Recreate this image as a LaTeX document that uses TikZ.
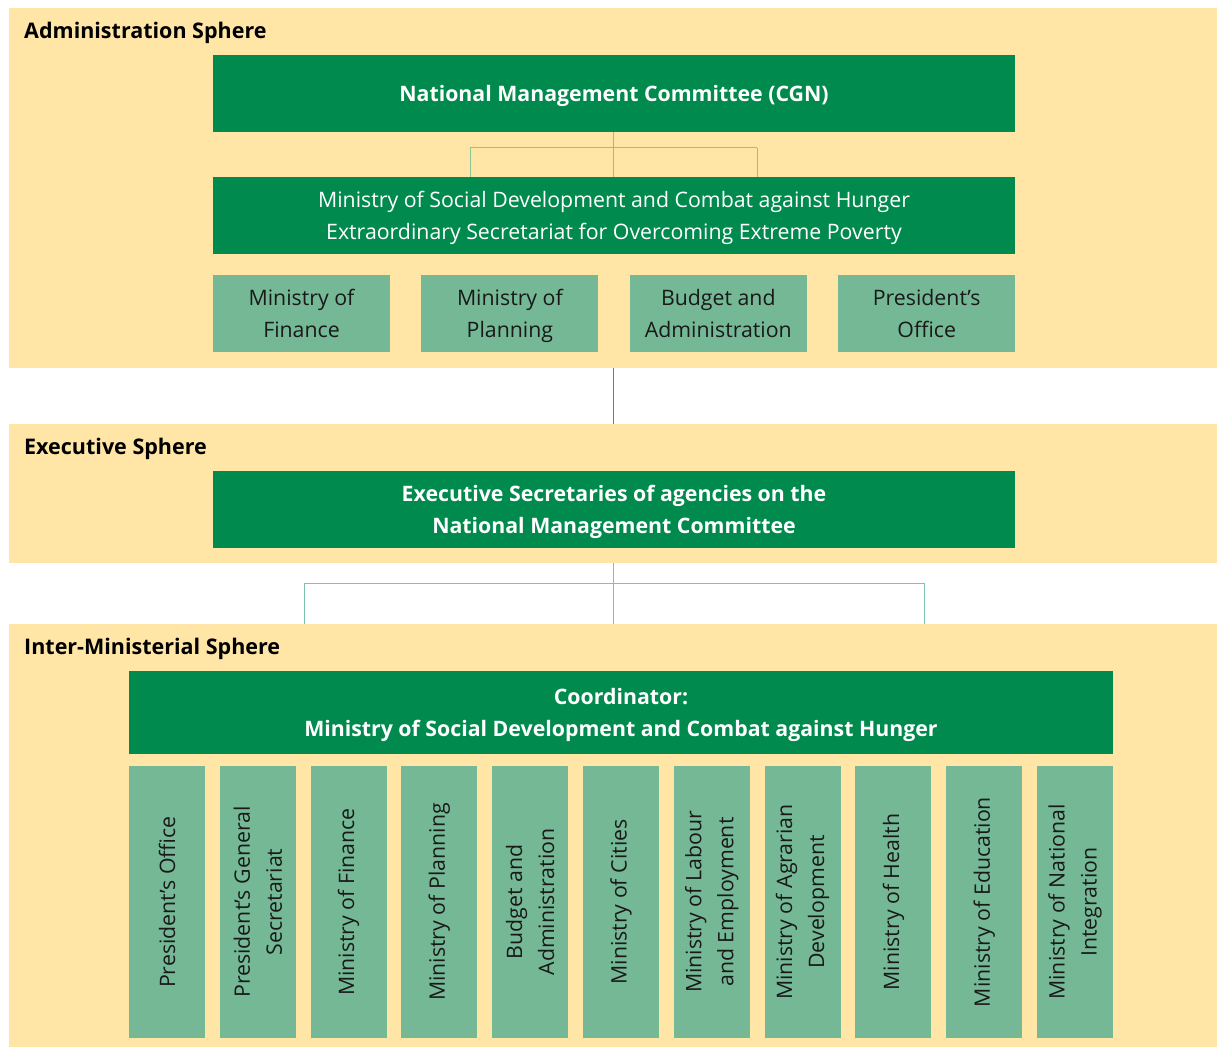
\documentclass[tikz,border=0pt]{standalone}
\usepackage{fontspec}
\setmainfont{Open Sans}
\usetikzlibrary{positioning}
\definecolor{cream}{HTML}{FFE6A6}
\definecolor{dkgreen}{HTML}{008A4E}
\definecolor{ltgreen}{HTML}{74B896}
\definecolor{forkgreen}{HTML}{8CC490}
\definecolor{forkteal}{HTML}{7CC4AA}
\definecolor{linkdark}{HTML}{3C9474}
\tikzset{
sphere/.style={
  fill=cream,
  inner sep=0pt,
  minimum width=1208pt,
  }
}
\tikzset{
spherelabel/.style={
  anchor=west,
  inner sep=0pt,
  font=\fontsize{21.5}{24}\selectfont\bfseries,
  }
}
\tikzset{
basebox/.style={
  inner sep=0pt,
  align=center,
  font=\fontsize{21.3}{32}\selectfont,
  }
}
\tikzset{
darkbox/.style={
  basebox,
  fill=dkgreen,
  text=white,
  text depth=0pt,
  minimum width=802pt,
  minimum height=77pt,
  }
}
\tikzset{
lightbox/.style={
  basebox,
  fill=ltgreen,
  text=black!90,
  text depth=0pt,
  minimum width=177pt,
  minimum height=77pt,
  }
}
\tikzset{
sidebox/.style={
  basebox,
  fill=ltgreen,
  text=black!90,
  rotate=90,
  minimum width=272pt,
  minimum height=76pt,
  }
}
\tikzset{
forkline/.style={
  line width=1pt,
  }
}

\begin{document}
\begin{tikzpicture}[x=1pt,y=-1pt]
    \useasboundingbox (0,0) rectangle (1217,1048);

    % spheres
    \node[sphere, minimum height=360pt] (adminsph) at (613,188) {};
    \node[sphere, minimum height=139pt] (execsph) at (613,493.5) {};
    \node[sphere, minimum height=423pt] (intersph) at (613,835.5) {};
    \node[spherelabel] (adminlbl) at (24,33) {Administration Sphere};
    \node[spherelabel] (execlbl) at (24,449) {Executive Sphere};
    \node[spherelabel] (interlbl) at (24,649) {Inter-Ministerial Sphere};

    % administration part
    \node[darkbox, font=\fontsize{21.3}{32}\selectfont\bfseries] (cgn) at (614,93.5) {National Management Committee (CGN)};
    \node[darkbox] (mds) at (614,215.5) {Ministry of Social Development and Combat against Hunger\\Extraordinary Secretariat for Overcoming Extreme Poverty};
    \node[lightbox] (fin) at (301.5,313.5) {Ministry of\\Finance};
    \node[lightbox, right=31pt of fin] (plan) {Ministry of\\Planning};
    \node[lightbox, right=31pt of plan] (budget) {Budget and\\Administration};
    \node[lightbox, right=31pt of budget] (pres) {President’s\\Office};

    % executive part
    \node[darkbox, font=\fontsize{21.3}{32}\selectfont\bfseries] (execsec) at (614,509.5) {Executive Secretaries of agencies on the\\National Management Committee};

    % inter-ministerial part
    \node[darkbox, minimum width=984pt, minimum height=83pt, font=\fontsize{21.3}{32}\selectfont\bfseries] (coord) at (621,712.5) {Coordinator:\\Ministry of Social Development and Combat against Hunger};
    \foreach \txt [count=\i from 0] in {President’s Office, {President’s General\\Secretariat}, Ministry of Finance, Ministry of Planning, {Budget and\\Administration}, Ministry of Cities, {Ministry of Labour\\and Employment}, {Ministry of Agrarian\\Development}, Ministry of Health, Ministry of Education, {Ministry of National\\Integration}}
        \node[sidebox] (min\i) at ({167+\i*90.8},902) {\txt};

    % administration edges
    \coordinate (fork) at (613,148);
    \coordinate (forkl) at (470,148);
    \coordinate (forkr) at (757,148);
    \draw[forkline, forkgreen] (cgn.south -| fork) -- (fork);
    \draw[forkline, forkgreen] (forkl) -- (forkr);
    \draw[forkline, forkgreen] (forkl) -- (forkl |- mds.north);
    \draw[forkline, forkgreen] (fork) -- (fork |- mds.north);
    \draw[forkline, forkgreen] (forkr) -- (forkr |- mds.north);

    % link between spheres
    \draw[forkline, linkdark] (adminsph.south) -- (execsph.north);

    % executive edges
    \coordinate (efork) at (613,583);
    \coordinate (eforkl) at (304,583);
    \coordinate (eforkr) at (924,583);
    \draw[forkline, forkteal] (execsph.south) -- (efork);
    \draw[forkline, forkteal] (eforkl) -- (eforkr);
    \draw[forkline, forkteal] (eforkl) -- (eforkl |- intersph.north);
    \draw[forkline, forkteal] (efork) -- (efork |- intersph.north);
    \draw[forkline, forkteal] (eforkr) -- (eforkr |- intersph.north);
\end{tikzpicture}
\end{document}
